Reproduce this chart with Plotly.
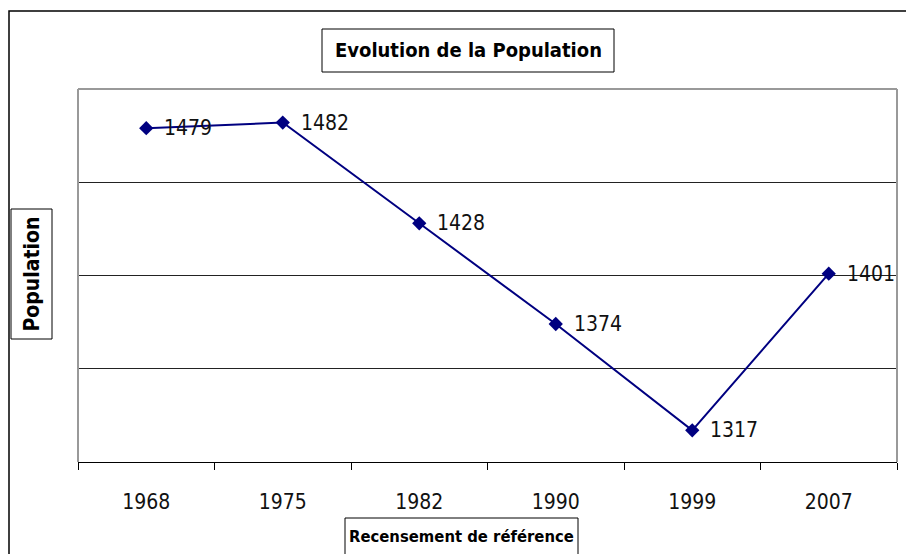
import plotly.graph_objects as go

years = ["1968", "1975", "1982", "1990", "1999", "2007"]
population = [1479, 1482, 1428, 1374, 1317, 1401]

FONT = "DejaVu Sans Condensed, Liberation Sans, sans-serif"

OFF = 8  # page body margin
L, R, T, B = 78 - OFF, 897 - OFF, 89 - OFF, 462 - OFF
W, H = 914 - OFF, 554 - OFF
PW, PH = R - L, B - T

def px(x):
    return (x - OFF - L) / PW

def py(y):
    return (B - (y - OFF)) / PH

fig = go.Figure()
fig.add_trace(go.Scatter(
    x=years, y=population,
    mode="lines+markers",
    line=dict(color="#000080", width=2),
    marker=dict(symbol="diamond", size=11, color="#000080"),
    cliponaxis=False,
    showlegend=False,
))

ann = []
for i, v in enumerate(population):
    ann.append(dict(x=i, y=v, xref="x", yref="y", text=str(v),
                    xanchor="left", yanchor="middle", xshift=16,
                    showarrow=False,
                    font=dict(family=FONT, size=21, color="#111111")))

ann += [
    dict(text="<b>Evolution de la Population</b>", xref="paper", yref="paper",
         x=px(468), y=py(50), xanchor="center", yanchor="middle",
         showarrow=False, font=dict(family=FONT, size=20, color="black")),
    dict(text="<b>Recensement de référence</b>", xref="paper", yref="paper",
         x=px(461.5), y=py(536), xanchor="center", yanchor="middle",
         showarrow=False, font=dict(family=FONT, size=16.5, color="black")),
    dict(text="<b>Population</b>", xref="paper", yref="paper",
         x=px(31.5), y=py(274), xanchor="center", yanchor="middle",
         showarrow=False, textangle=-90,
         font=dict(family=FONT, size=21, color="black")),
]

def box(x0, x1, y0, y1):
    return dict(type="rect", xref="paper", yref="paper",
                x0=px(x0), x1=px(x1), y0=py(y1), y1=py(y0),
                line=dict(color="black", width=1), fillcolor="white", layer="below")

fig.update_layout(
    width=W, height=H,
    margin=dict(l=L, r=W - R, t=T, b=H - B),
    paper_bgcolor="white", plot_bgcolor="white",
    font=dict(family=FONT, color="black"),
    xaxis=dict(
        type="category", range=[-0.5, 5.5],
        showgrid=False, zeroline=False,
        showline=True, linecolor="black", linewidth=1,
        ticks="outside", tickson="boundaries", ticklen=7, tickcolor="black",
        tickfont=dict(family=FONT, size=21, color="#111111"),
        ticklabelstandoff=21,
    ),
    yaxis=dict(
        range=[1300, 1500],
        tickvals=[1350, 1400, 1450],
        showticklabels=False,
        showgrid=True, gridcolor="#222222", gridwidth=1,
        zeroline=False, showline=False, ticks="",
    ),
    shapes=[
        dict(type="rect", xref="paper", yref="paper",
             x0=px(OFF + 1), x1=px(940), y0=py(580), y1=py(11),
             line=dict(color="black", width=1.5), layer="below"),
        box(322, 614, 29, 72),
        box(345, 578, 518, 565),
        box(11, 52, 209, 339),
        dict(type="line", xref="paper", yref="paper", x0=0, x1=0, y0=0, y1=1,
             line=dict(color="#999999", width=2)),
        dict(type="line", xref="paper", yref="paper", x0=0, x1=1, y0=1, y1=1,
             line=dict(color="#999999", width=2)),
        dict(type="line", xref="paper", yref="paper", x0=1, x1=1, y0=0, y1=1,
             line=dict(color="#999999", width=2)),
    ],
    annotations=ann,
)

fig.write_html("out.html")
